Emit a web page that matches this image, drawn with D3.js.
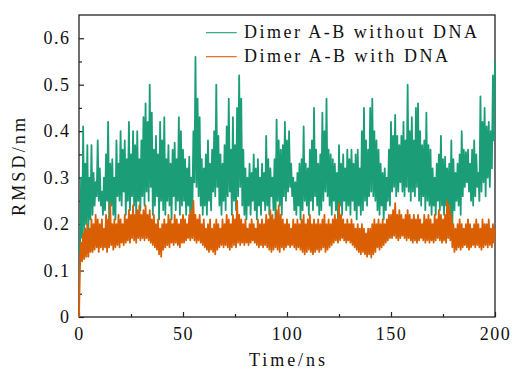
<!DOCTYPE html>
<html>
<head>
<meta charset="utf-8">
<script src="https://cdn.jsdelivr.net/npm/d3@7"></script>
<style>
  body { margin: 0; background: #fff; }
  text { font-family: "Liberation Serif", serif; fill: #111; }
</style>
</head>
<body>
<div id="chart"></div>
<script>
// series labels
const seriesNames = ['Dimer A-B without DNA', 'Dimer A-B with DNA'];
const xTicks = [0, 50, 100, 150, 200];
const xMinorTicks = [25, 75, 125, 175];
const yTicks = [0, 0.1, 0.2, 0.3, 0.4, 0.5, 0.6];
const yMinorTicks = [0.05, 0.15, 0.25, 0.35, 0.45, 0.55];

// green: upper / lower RMSD reading for each ns (t = 0..199), plus value at 200 ns
const withoutHi = [
  0.15, 0.30, 0.41, 0.33, 0.37, 0.30, 0.37, 0.31, 0.29, 0.38,
  0.32, 0.27, 0.30, 0.35, 0.42, 0.33, 0.34, 0.30, 0.38, 0.33,
  0.40, 0.36, 0.38, 0.34, 0.42, 0.35, 0.40, 0.37, 0.40, 0.34,
  0.38, 0.43, 0.46, 0.42, 0.50, 0.44, 0.36, 0.39, 0.35, 0.42,
  0.38, 0.43, 0.34, 0.37, 0.33, 0.36, 0.375, 0.34, 0.43, 0.40,
  0.36, 0.34, 0.32, 0.345, 0.30, 0.40, 0.56, 0.47, 0.43, 0.34,
  0.32, 0.35, 0.38, 0.33, 0.36, 0.40, 0.50, 0.39, 0.35, 0.33,
  0.37, 0.41, 0.47, 0.36, 0.43, 0.37, 0.45, 0.52, 0.47, 0.36,
  0.32, 0.30, 0.33, 0.31, 0.35, 0.32, 0.34, 0.30, 0.33, 0.31,
  0.39, 0.34, 0.32, 0.30, 0.34, 0.425, 0.38, 0.36, 0.37, 0.42,
  0.38, 0.40, 0.33, 0.30, 0.29, 0.31, 0.33, 0.34, 0.41, 0.33,
  0.32, 0.36, 0.38, 0.45, 0.36, 0.33, 0.35, 0.44, 0.40, 0.47,
  0.36, 0.35, 0.34, 0.33, 0.31, 0.37, 0.33, 0.35, 0.32, 0.36,
  0.34, 0.36, 0.33, 0.35, 0.36, 0.32, 0.40, 0.45, 0.38, 0.36,
  0.45, 0.47, 0.40, 0.38, 0.36, 0.33, 0.31, 0.32, 0.30, 0.36,
  0.42, 0.39, 0.435, 0.39, 0.37, 0.39, 0.42, 0.38, 0.50, 0.40,
  0.43, 0.38, 0.45, 0.46, 0.40, 0.37, 0.38, 0.44, 0.37, 0.36,
  0.32, 0.30, 0.33, 0.35, 0.39, 0.34, 0.345, 0.32, 0.33, 0.38,
  0.34, 0.31, 0.33, 0.35, 0.40, 0.36, 0.355, 0.36, 0.33, 0.36,
  0.38, 0.35, 0.31, 0.475, 0.42, 0.45, 0.41, 0.42, 0.40, 0.52
];
const withoutLo = [
  0.14, 0.17, 0.18, 0.20, 0.19, 0.21, 0.22, 0.24, 0.26, 0.25,
  0.24, 0.22, 0.23, 0.25, 0.21, 0.24, 0.22, 0.21, 0.26, 0.25,
  0.24, 0.27, 0.22, 0.25, 0.23, 0.26, 0.24, 0.22, 0.25, 0.23,
  0.26, 0.24, 0.27, 0.25, 0.28, 0.22, 0.24, 0.26, 0.21, 0.25,
  0.23, 0.22, 0.25, 0.24, 0.21, 0.26, 0.23, 0.25, 0.22, 0.24,
  0.25, 0.22, 0.24, 0.21, 0.23, 0.29, 0.28, 0.26, 0.24, 0.22,
  0.24, 0.22, 0.25, 0.23, 0.27, 0.26, 0.28, 0.24, 0.22, 0.25,
  0.23, 0.26, 0.27, 0.22, 0.25, 0.23, 0.26, 0.28, 0.24, 0.22,
  0.21, 0.24, 0.22, 0.25, 0.23, 0.21, 0.24, 0.22, 0.25, 0.23,
  0.24, 0.22, 0.26, 0.23, 0.21, 0.25, 0.24, 0.22, 0.26, 0.25,
  0.27, 0.28, 0.26, 0.23, 0.22, 0.24, 0.21, 0.23, 0.25, 0.24,
  0.22, 0.25, 0.23, 0.26, 0.24, 0.22, 0.23, 0.25, 0.27, 0.26,
  0.24, 0.22, 0.25, 0.23, 0.21, 0.24, 0.22, 0.25, 0.23, 0.24,
  0.22, 0.25, 0.23, 0.21, 0.24, 0.22, 0.23, 0.25, 0.24, 0.26,
  0.27, 0.26, 0.25, 0.23, 0.22, 0.24, 0.21, 0.23, 0.25, 0.24,
  0.27, 0.28, 0.26, 0.27, 0.29, 0.27, 0.26, 0.28, 0.27, 0.25,
  0.27, 0.26, 0.28, 0.25, 0.24, 0.26, 0.23, 0.25, 0.24, 0.22,
  0.24, 0.22, 0.25, 0.23, 0.24, 0.22, 0.24, 0.23, 0.21, 0.20,
  0.23, 0.25, 0.24, 0.22, 0.26, 0.28, 0.29, 0.27, 0.25, 0.24,
  0.26, 0.28, 0.25, 0.27, 0.29, 0.26, 0.30, 0.28, 0.32, 0.38
];
const withoutEnd = 0.55;

// orange: upper / lower RMSD reading for each ns (t = 0..199), plus value at 200 ns
const withHi = [
  0.00, 0.16, 0.18, 0.19, 0.20, 0.19, 0.21, 0.20, 0.22, 0.21,
  0.20, 0.21, 0.19, 0.22, 0.21, 0.245, 0.20, 0.21, 0.20, 0.22,
  0.21, 0.20, 0.22, 0.21, 0.23, 0.22, 0.24, 0.22, 0.23, 0.24,
  0.22, 0.23, 0.24, 0.22, 0.23, 0.21, 0.22, 0.20, 0.21, 0.19,
  0.20, 0.21, 0.20, 0.22, 0.21, 0.20, 0.22, 0.21, 0.20, 0.21,
  0.22, 0.21, 0.20, 0.22, 0.23, 0.25, 0.22, 0.21, 0.22, 0.20,
  0.21, 0.19, 0.20, 0.21, 0.19, 0.20, 0.21, 0.20, 0.19, 0.21,
  0.20, 0.22, 0.21, 0.20, 0.22, 0.21, 0.25, 0.22, 0.21, 0.20,
  0.21, 0.19, 0.20, 0.21, 0.20, 0.19, 0.21, 0.20, 0.21, 0.20,
  0.22, 0.21, 0.23, 0.22, 0.21, 0.23, 0.24, 0.22, 0.21, 0.20,
  0.21, 0.20, 0.19, 0.21, 0.20, 0.21, 0.20, 0.21, 0.22, 0.20,
  0.21, 0.22, 0.20, 0.21, 0.20, 0.21, 0.20, 0.21, 0.22, 0.20,
  0.21, 0.20, 0.21, 0.22, 0.21, 0.245, 0.22, 0.21, 0.20, 0.21,
  0.20, 0.21, 0.20, 0.19, 0.20, 0.19, 0.20, 0.19, 0.18, 0.19,
  0.19, 0.20, 0.21, 0.20, 0.21, 0.20, 0.21, 0.20, 0.21, 0.22,
  0.22, 0.23, 0.245, 0.22, 0.23, 0.22, 0.21, 0.22, 0.23, 0.22,
  0.21, 0.22, 0.21, 0.22, 0.21, 0.20, 0.22, 0.21, 0.22, 0.21,
  0.20, 0.22, 0.21, 0.23, 0.22, 0.21, 0.22, 0.25, 0.24, 0.22,
  0.20, 0.19, 0.20, 0.21, 0.20, 0.19, 0.20, 0.21, 0.20, 0.19,
  0.20, 0.21, 0.20, 0.19, 0.21, 0.20, 0.20, 0.21, 0.19, 0.20
];
const withLo = [
  0.11, 0.12, 0.125, 0.13, 0.13, 0.14, 0.14, 0.145, 0.15, 0.14,
  0.15, 0.145, 0.15, 0.14, 0.15, 0.155, 0.145, 0.15, 0.155, 0.15,
  0.16, 0.155, 0.16, 0.165, 0.16, 0.17, 0.165, 0.16, 0.17, 0.165,
  0.17, 0.165, 0.17, 0.165, 0.16, 0.155, 0.15, 0.145, 0.135, 0.13,
  0.145, 0.15, 0.155, 0.15, 0.16, 0.155, 0.16, 0.155, 0.15, 0.16,
  0.16, 0.165, 0.17, 0.165, 0.17, 0.165, 0.16, 0.165, 0.16, 0.155,
  0.15, 0.145, 0.14, 0.145, 0.14, 0.135, 0.145, 0.15, 0.155, 0.15,
  0.155, 0.15, 0.145, 0.15, 0.155, 0.15, 0.16, 0.155, 0.16, 0.155,
  0.16, 0.155, 0.16, 0.165, 0.16, 0.155, 0.15, 0.155, 0.15, 0.155,
  0.15, 0.145, 0.14, 0.145, 0.15, 0.145, 0.14, 0.15, 0.145, 0.15,
  0.155, 0.15, 0.155, 0.15, 0.145, 0.15, 0.145, 0.14, 0.135, 0.14,
  0.145, 0.14, 0.135, 0.14, 0.145, 0.14, 0.145, 0.15, 0.14, 0.145,
  0.15, 0.155, 0.16, 0.165, 0.16, 0.165, 0.17, 0.165, 0.16, 0.165,
  0.16, 0.155, 0.15, 0.145, 0.14, 0.135, 0.14, 0.135, 0.13, 0.135,
  0.128, 0.135, 0.14, 0.15, 0.145, 0.15, 0.155, 0.16, 0.165, 0.17,
  0.17, 0.175, 0.17, 0.165, 0.17, 0.175, 0.17, 0.165, 0.17, 0.165,
  0.16, 0.165, 0.16, 0.165, 0.17, 0.165, 0.16, 0.165, 0.16, 0.165,
  0.16, 0.165, 0.17, 0.165, 0.16, 0.165, 0.16, 0.17, 0.165, 0.15,
  0.14, 0.145, 0.15, 0.145, 0.15, 0.155, 0.15, 0.145, 0.15, 0.155,
  0.15, 0.155, 0.15, 0.145, 0.15, 0.155, 0.15, 0.155, 0.15, 0.16
];
const withEnd = 0.19;

const colors = ['#1b9e77', '#d95f02'];

const margin = { top: 15, right: 17, bottom: 51, left: 79 };
const width = 512 - margin.left - margin.right;
const height = 368 - margin.top - margin.bottom;

// interleave the upper and lower readings into one time series
function buildSeries(hi, lo, last) {
  const out = [];
  hi.forEach((v, i) => {
    out.push({ t: i, v: v });
    out.push({ t: i + 0.5, v: lo[i] });
  });
  out.push({ t: 200, v: last });
  return out;
}
const series = [
  buildSeries(withoutHi, withoutLo, withoutEnd),
  buildSeries(withHi, withLo, withEnd)
];

const svg = d3.select('#chart')
  .append('svg')
  .attr('width', 512)
  .attr('height', 368)
  .append('g')
  .attr('transform', 'translate(' + margin.left + ',' + margin.top + ')');

const x = d3.scaleLinear().domain([0, 200]).range([0, width]);
const y = d3.scaleLinear().domain([0, 0.65]).range([height, 0]);

// frame
svg.append('rect')
  .attr('x', 0).attr('y', 0)
  .attr('width', width).attr('height', height)
  .attr('fill', 'none')
  .attr('stroke', '#222')
  .attr('stroke-width', 1.3);

// X axis, ticks pointing inward
svg.append('g')
  .attr('transform', 'translate(0,' + height + ')')
  .call(d3.axisBottom(x).tickValues(xTicks).tickSizeInner(-5).tickSizeOuter(0).tickPadding(10));
svg.append('g')
  .attr('transform', 'translate(0,' + height + ')')
  .call(d3.axisBottom(x).tickValues(xMinorTicks).tickSizeInner(-3).tickSizeOuter(0).tickFormat(''));

// Y axis
svg.append('g')
  .call(d3.axisLeft(y).tickValues(yTicks).tickSizeInner(-5).tickSizeOuter(0).tickPadding(8.5)
    .tickFormat(d => d === 0 ? '0' : d3.format('.1f')(d)));
svg.append('g')
  .call(d3.axisLeft(y).tickValues(yMinorTicks).tickSizeInner(-3).tickSizeOuter(0).tickFormat(''));

svg.selectAll('.domain').remove();
svg.selectAll('.tick line').attr('stroke', '#222').attr('stroke-width', 1.2);
svg.selectAll('.tick text')
  .attr('font-family', '"Liberation Serif", serif')
  .attr('font-size', 18)
  .attr('letter-spacing', 1.5)
  .attr('fill', '#111');

// lines
const line = d3.line()
  .x(d => x(d.t))
  .y(d => y(d.v));

series.forEach((s, i) => {
  svg.append('path')
    .datum(s)
    .attr('d', line)
    .attr('fill', 'none')
    .attr('stroke', colors[i])
    .attr('stroke-width', 1.8)
    .attr('stroke-linejoin', 'round');
});

// axis titles
svg.append('text')
  .attr('x', width / 2)
  .attr('y', height + 48.5)
  .attr('text-anchor', 'middle')
  .attr('font-size', 18)
  .attr('textLength', 76)
  .attr('lengthAdjust', 'spacing')
  .text('Time/ns');

svg.append('text')
  .attr('transform', 'rotate(-90)')
  .attr('x', -(167 - margin.top))
  .attr('y', 25 - margin.left)
  .attr('text-anchor', 'middle')
  .attr('font-size', 18)
  .attr('textLength', 98)
  .attr('lengthAdjust', 'spacing')
  .text('RMSD/nm');

// legend
const legendWidths = [233, 204];
const legend = svg.append('g')
  .attr('transform', 'translate(' + (206 - margin.left) + ',' + (32.7 - margin.top) + ')');
seriesNames.forEach((name, i) => {
  const row = legend.append('g').attr('transform', 'translate(0,' + (i * 24) + ')');
  row.append('line')
    .attr('x1', 0).attr('x2', 30.7)
    .attr('y1', 0).attr('y2', 0)
    .attr('stroke', colors[i])
    .attr('stroke-width', 1.1);
  row.append('text')
    .attr('x', 38)
    .attr('y', 5.3)
    .attr('font-size', 18)
    .attr('textLength', legendWidths[i])
    .attr('lengthAdjust', 'spacing')
    .text(name);
});
</script>
</body>
</html>
